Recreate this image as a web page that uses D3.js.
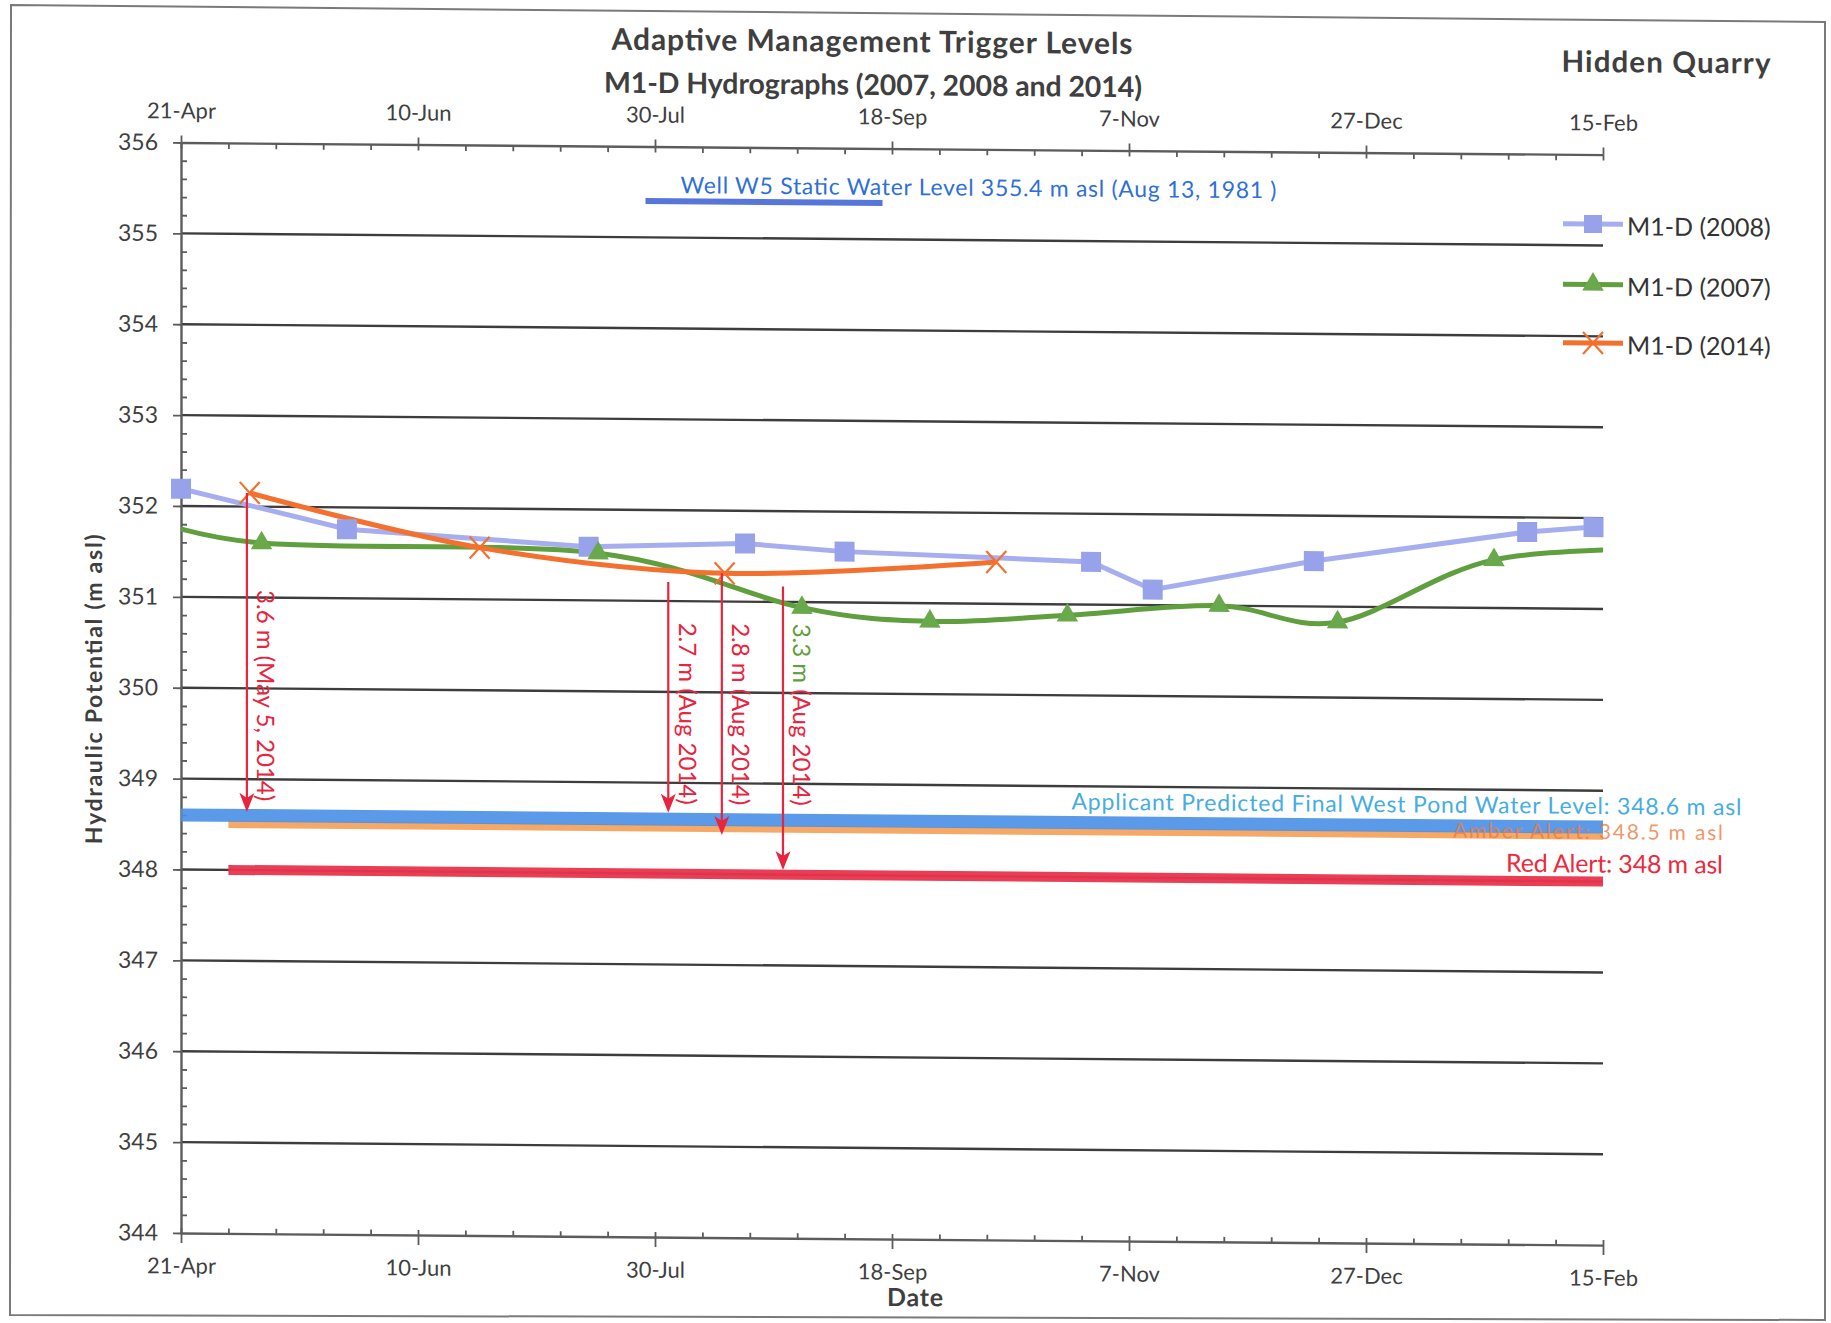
<!DOCTYPE html>
<html><head><meta charset="utf-8">
<script src="https://cdn.jsdelivr.net/npm/d3@7"></script>
<style>
body{margin:0;background:#fff}
svg{display:block}
text{font-family:Lato,"Open Sans",sans-serif}
</style>
</head><body>
<svg id="c" width="1831" height="1323"></svg>
<script>
// ---------- data ----------
const xTickDays = [0, 50, 100, 150, 200, 250, 300];
const xTickLabels = ["21-Apr", "10-Jun", "30-Jul", "18-Sep", "7-Nov", "27-Dec", "15-Feb"];
const yTickValues = [344, 345, 346, 347, 348, 349, 350, 351, 352, 353, 354, 355, 356];

const seriesNames = ["M1-D (2008)", "M1-D (2007)", "M1-D (2014)"];
const days2008 = [0, 35, 86, 119, 140, 192, 205, 239, 284, 298];
const vals2008 = [352.19, 351.76, 351.59, 351.64, 351.56, 351.47, 351.17, 351.50, 351.84, 351.90];
const days2007 = [-10, 17, 88, 131, 158, 187, 219, 244, 277, 318];
const vals2007 = [351.92, 351.60, 351.52, 350.94, 350.80, 350.88, 351.00, 350.83, 351.53, 351.67];
const days2014 = [14.5, 63, 114.7, 172];
const vals2014 = [352.15, 351.57, 351.31, 351.46];

const refLabels = ["Applicant Predicted Final West Pond Water Level: 348.6 m asl",
                   "Amber Alert: 348.5 m asl",
                   "Red Alert: 348 m asl",
                   "Well W5 Static Water Level 355.4 m asl (Aug 13, 1981 )"];
const refValues = [348.6, 348.5, 348.0, 355.4];
const refStartDays = [0, 10, 10, 98];
const refEndDays = [300, 300, 300, 148];

const arrowDays = [13.9, 102.8, 114.1, 127];
const arrowFrom = [352.15, 351.21, 351.31, 351.17];
const arrowTo = [348.64, 348.67, 348.43, 348.05];
const arrowLabels = ["3.6 m (May 5, 2014)", "2.7 m (Aug 2014)", "2.8 m (Aug 2014)", "3.3 m (Aug 2014)"];

// ---------- layout ----------
const X0 = 181, X1 = 1603, YT = 142.5, YB = 1233;
const SLOPE = 0.0085;
const x = d3.scaleLinear().domain([0, 300]).range([X0, X1]);
const y = d3.scaleLinear().domain([344, 356]).range([YB, YT]);
const svg = d3.select("#c");

svg.append("rect").attr("width", 1831).attr("height", 1323).attr("fill", "#fff");
svg.append("path").attr("d", "M11,5 L1825,22 L1825,1320 L10,1315 Z")
  .attr("fill", "none").attr("stroke", "#7a7a7a").attr("stroke-width", 2);

const g = svg.append("g")
  .attr("transform", `translate(0,${-X0 * SLOPE}) skewY(${Math.atan(SLOPE) * 180 / Math.PI})`);

const C = {
  grid: "#3d3d3d", axis: "#5c5c5c", text: "#3f3f3f",
  s2008: "#a6aef0", m2008: "#98a2ea", s2007: "#5f9f3d", m2007: "#69a94c",
  s2014: "#f3702e", blue: "#4a90e6", amber: "#f6a45e", red: "#e8344c",
  well: "#4f6fd8", wellText: "#2f6fd8", applicant: "#45ade2", amberText: "#ee7a3e", redText: "#ec2a40",
  arrow: "#e8243e", green: "#5f9f3d"
};

// gridlines
g.append("g").selectAll("line").data(yTickValues.filter(v => v > 344 && v < 356)).join("line")
  .attr("x1", X0).attr("x2", X1).attr("y1", d => y(d)).attr("y2", d => y(d))
  .attr("stroke", C.grid).attr("stroke-width", 2.4);

function styleAxis(sel) {
  sel.selectAll(".domain").attr("stroke", C.axis).attr("stroke-width", 2.4);
  sel.selectAll(".tick line").attr("stroke", C.axis).attr("stroke-width", 1.8);
  sel.selectAll("text").attr("fill", C.text).style("font-size", "22px").style("font-family", "Lato");
}
const yMinor = d3.range(344, 356.001, 0.2).filter(v => Math.abs(v - Math.round(v)) > 0.01);
const xMinor = d3.range(0, 301, 10).filter(v => v % 50 !== 0);

// left axis
g.append("g").attr("transform", `translate(${X0},0)`)
  .call(d3.axisLeft(y).tickValues(yTickValues).tickSize(8).tickSizeOuter(0).tickPadding(15).tickFormat(d3.format("d")))
  .call(styleAxis)
  .call(s => s.selectAll("text").style("font-size", "23px"));
g.append("g").attr("transform", `translate(${X0},0)`)
  .call(d3.axisRight(y).tickValues(yMinor).tickSize(6).tickFormat(""))
  .call(s => { styleAxis(s); s.select(".domain").remove(); });

// bottom axis
g.append("g").attr("transform", `translate(0,${YB})`)
  .call(d3.axisBottom(x).tickValues(xTickDays).tickSize(10).tickSizeOuter(0).tickPadding(15).tickFormat((d, i) => xTickLabels[i]))
  .call(styleAxis);
g.append("g").attr("transform", `translate(0,${YB})`)
  .call(d3.axisTop(x).tickValues(xTickDays.concat(xMinor)).tickSize(5).tickFormat(""))
  .call(s => { styleAxis(s); s.select(".domain").remove(); });

// top axis
g.append("g").attr("transform", `translate(0,${YT})`)
  .call(d3.axisTop(x).tickValues(xTickDays).tickSize(7).tickSizeOuter(0).tickPadding(17).tickFormat((d, i) => xTickLabels[i]))
  .call(styleAxis);
g.append("g").attr("transform", `translate(0,${YT})`)
  .call(d3.axisBottom(x).tickValues(xTickDays.concat(xMinor)).tickSize(6).tickFormat(""))
  .call(s => { styleAxis(s); s.select(".domain").remove(); });

// reference lines
const refColors = [C.blue, C.amber, C.red, C.well];
const refWidths = [13, 7, 10, 6];
const refOrder = [2, 1, 0, 3];
refOrder.forEach(i => {
  g.append("line").attr("x1", x(refStartDays[i])).attr("x2", x(refEndDays[i]))
    .attr("y1", y(refValues[i])).attr("y2", y(refValues[i]))
    .attr("stroke", refColors[i]).attr("stroke-width", refWidths[i])
    .attr("opacity", i === 0 ? 0.9 : 0.95);
});
g.append("text").attr("x", 1723).attr("y", 827).attr("text-anchor", "end")
  .attr("fill", C.amberText).attr("fill-opacity", 0.8).style("font-size", "21px").attr("textLength", 270).text(refLabels[1]);
g.append("text").attr("x", 1071.5).attr("y", 802).attr("fill", C.applicant)
  .style("font-size", "23px").attr("textLength", 670).text(refLabels[0]);
g.append("text").attr("x", 1723).attr("y", 860.5).attr("text-anchor", "end").attr("fill", C.redText)
  .style("font-size", "25px").attr("textLength", 217).text(refLabels[2]);
g.append("text").attr("x", 680.5).attr("y", 189).attr("fill", C.wellText)
  .style("font-size", "23px").attr("textLength", 596).text(refLabels[3]);

// series
g.append("clipPath").attr("id", "plotclip").append("rect")
  .attr("x", X0).attr("y", YT).attr("width", X1 - X0).attr("height", YB - YT);

const mk = (days, vals) => days.map((d, i) => ({d, v: vals[i]}));
const d2008 = mk(days2008, vals2008), d2007 = mk(days2007, vals2007), d2014 = mk(days2014, vals2014);
const linLine = d3.line().x(p => x(p.d)).y(p => y(p.v));
const smooth = d3.line().x(p => x(p.d)).y(p => y(p.v)).curve(d3.curveCardinal.tension(0));
const lines = g.append("g").attr("clip-path", "url(#plotclip)");
lines.append("path").attr("d", linLine(d2008)).attr("fill", "none").attr("stroke", C.s2008).attr("stroke-width", 5);
lines.append("path").attr("d", smooth(d2007)).attr("fill", "none").attr("stroke", C.s2007).attr("stroke-width", 5);
lines.append("path").attr("d", smooth(d2014)).attr("fill", "none").attr("stroke", C.s2014).attr("stroke-width", 5);

const inRange = p => p.d >= 0 && p.d <= 300;
const sq = 20;
g.append("g").selectAll("rect").data(d2008.filter(inRange)).join("rect")
  .attr("x", p => x(p.d) - sq / 2).attr("y", p => y(p.v) - sq / 2).attr("width", sq).attr("height", sq)
  .attr("fill", C.m2008);
const tri = d3.symbol(d3.symbolTriangle, 200);
g.append("g").selectAll("path").data(d2007.filter(inRange)).join("path")
  .attr("d", tri).attr("transform", p => `translate(${x(p.d)},${y(p.v)})`).attr("fill", C.m2007);
const cross = "M-10,-11L10,11M-10,11L10,-11";
g.append("g").selectAll("path").data(d2014.filter(inRange)).join("path")
  .attr("d", cross).attr("transform", p => `translate(${x(p.d)},${y(p.v)})`)
  .attr("stroke", C.s2014).attr("stroke-width", 2.2).attr("fill", "none");

// arrows
const ag = g.append("g");
arrowDays.forEach((d, i) => {
  const ax = x(d), y1 = y(arrowFrom[i]), y2 = y(arrowTo[i]);
  ag.append("line").attr("x1", ax).attr("x2", ax).attr("y1", y1).attr("y2", y2 - 12)
    .attr("stroke", C.arrow).attr("stroke-width", 2.2);
  ag.append("path").attr("d", `M${ax},${y2} L${ax - 7.5},${y2 - 19} L${ax},${y2 - 14} L${ax + 7.5},${y2 - 19} Z`)
    .attr("fill", C.arrow);
  const t = ag.append("text").attr("transform", `translate(${ax + 20},${y(348.76)}) rotate(90)`)
    .attr("text-anchor", "end").attr("dominant-baseline", "central")
    .style("font-size", "24px").attr("fill", C.arrow);
  if (i === 3) {
    const parts = arrowLabels[i].split(" (");
    t.append("tspan").attr("fill", C.green).text(parts[0] + " ");
    t.append("tspan").text("(" + parts[1]);
  } else {
    t.text(arrowLabels[i]);
  }
});

// legend
const legColors = [C.s2008, C.s2007, C.s2014];
const legY = [212, 272.5, 331];
seriesNames.forEach((name, i) => {
  const ly = legY[i];
  g.append("line").attr("x1", 1563).attr("x2", 1623).attr("y1", ly).attr("y2", ly)
    .attr("stroke", legColors[i]).attr("stroke-width", 5);
  if (i === 0) g.append("rect").attr("x", 1593 - 9).attr("y", ly - 9).attr("width", 18).attr("height", 18).attr("fill", C.m2008);
  if (i === 1) g.append("path").attr("d", tri).attr("transform", `translate(1593,${ly})`).attr("fill", C.m2007);
  if (i === 2) g.append("path").attr("d", cross).attr("transform", `translate(1593,${ly})`)
    .attr("stroke", C.s2014).attr("stroke-width", 2.2).attr("fill", "none");
  g.append("text").attr("x", 1627).attr("y", ly + 1).attr("dominant-baseline", "central")
    .attr("fill", "#333").style("font-size", "25px").text(name);
});

// titles
const title = (txt, cx, by, len, size) => g.append("text").attr("x", cx).attr("y", by)
  .attr("text-anchor", "middle").attr("fill", C.text).style("font-size", size + "px")
  .style("font-weight", "bold").attr("textLength", len).text(txt);
title("Adaptive Management Trigger Levels", 872, 46, 521, 30);
title("M1-D Hydrographs (2007, 2008 and 2014)", 873, 89, 538, 28.5);
title("Hidden Quarry", 1666, 60, 209, 29.5);
title("Date", 915, 1300, 56, 25);
g.append("text").attr("transform", `translate(93,690) rotate(-90)`).attr("text-anchor", "middle")
  .attr("dominant-baseline", "central").attr("fill", C.text).style("font-size", "23px")
  .style("font-weight", "bold").attr("textLength", 310).text("Hydraulic Potential (m asl)");
</script>
</body></html>
